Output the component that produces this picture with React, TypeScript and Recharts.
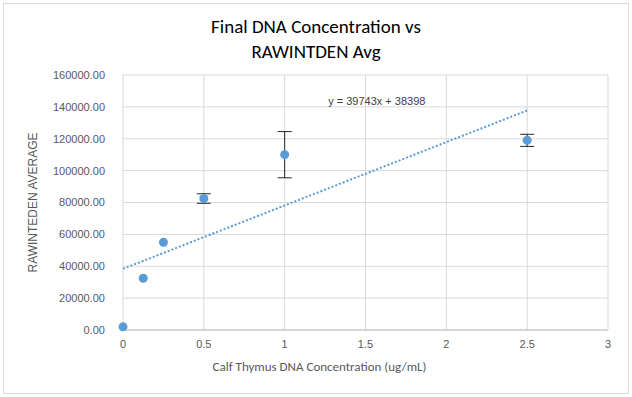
import { ComposedChart, Scatter, ErrorBar, XAxis, YAxis, CartesianGrid, ReferenceDot } from 'recharts';

const concentrations = [0, 0.125, 0.25, 0.5, 1, 2.5];
const averages = [2000, 32500, 55000, 82500, 110000, 119000];
const errors = [0, 0, 0, 3000, 14500, 3800];

const trendX = [0, 2.5];
const trendY = [38398, 137756];

const xTicks = [0, 0.5, 1, 1.5, 2, 2.5, 3];
const yTicks = [0, 20000, 40000, 60000, 80000, 100000, 120000, 140000, 160000];

const points = concentrations.map((x, i) => ({ x, y: averages[i], err: errors[i] }));
const trend = trendX.map((x, i) => ({ x, y: trendY[i] }));

const calibri = 'Calibri, Carlito, "Liberation Sans", Arial, sans-serif';
const arial = '"Liberation Sans", Arial, sans-serif';
const tickStyle = { fill: '#595959', fontSize: 11, fontFamily: arial };

export default function App() {
  return (
    <div style={{ position: 'absolute', left: 0, top: 0, width: 632, height: 397, background: '#fff' }}>
      <div style={{ position: 'absolute', left: 3, top: 3, width: 624, height: 389, border: '1px solid #d9d9d9' }} />
      <div style={{ position: 'absolute', left: 0, top: 14, width: 632, textAlign: 'center', fontFamily: calibri, fontSize: 19, color: '#000', lineHeight: '25px' }}>
        Final DNA Concentration vs<br />RAWINTDEN Avg
      </div>
      <ComposedChart width={632} height={397} margin={{ top: 75, right: 24, bottom: 37, left: 43 }} style={{ position: 'absolute', left: 0, top: 0 }}>
        <CartesianGrid stroke="#d9d9d9" ticks={xTicks} />
        <XAxis
          type="number"
          dataKey="x"
          domain={[0, 3]}
          ticks={xTicks}
          tick={tickStyle}
          tickLine={false}
          axisLine={{ stroke: '#bfbfbf' }}
          height={30}
          tickMargin={4}
          label={{ value: 'Calf Thymus DNA  Concentration (ug/mL)', position: 'insideBottom', offset: -11, dx: -46, style: { fill: '#595959', fontSize: 13, fontFamily: calibri } }}
        />
        <YAxis
          type="number"
          dataKey="y"
          domain={[0, 160000]}
          ticks={yTicks}
          tickFormatter={(v: number) => v.toFixed(2)}
          tick={tickStyle}
          tickLine={false}
          axisLine={false}
          width={80}
          tickMargin={12}
          label={{ value: 'RAWINTEDEN AVERAGE', angle: -90, position: 'insideLeft', offset: -10, style: { fill: '#595959', fontSize: 12, fontFamily: arial, textAnchor: 'middle' } }}
        />
        <Scatter data={trend} line={{ stroke: '#5b9bd5', strokeWidth: 2, strokeDasharray: '2 2' }} shape={() => null} isAnimationActive={false} />
        <Scatter data={points} fill="#5b9bd5" shape={(p: any) => <circle cx={p.cx} cy={p.cy} r={4.5} fill="#5b9bd5" />} isAnimationActive={false}>
          <ErrorBar dataKey="err" direction="y" width={7} stroke="#262626" strokeWidth={1} isAnimationActive={false} />
        </Scatter>
        <ReferenceDot x={1.57} y={143700} r={0} stroke="none" label={{ value: 'y = 39743x + 38398', position: 'center', style: { fill: '#404040', fontSize: 11, fontFamily: arial } }} />
      </ComposedChart>
    </div>
  );
}
